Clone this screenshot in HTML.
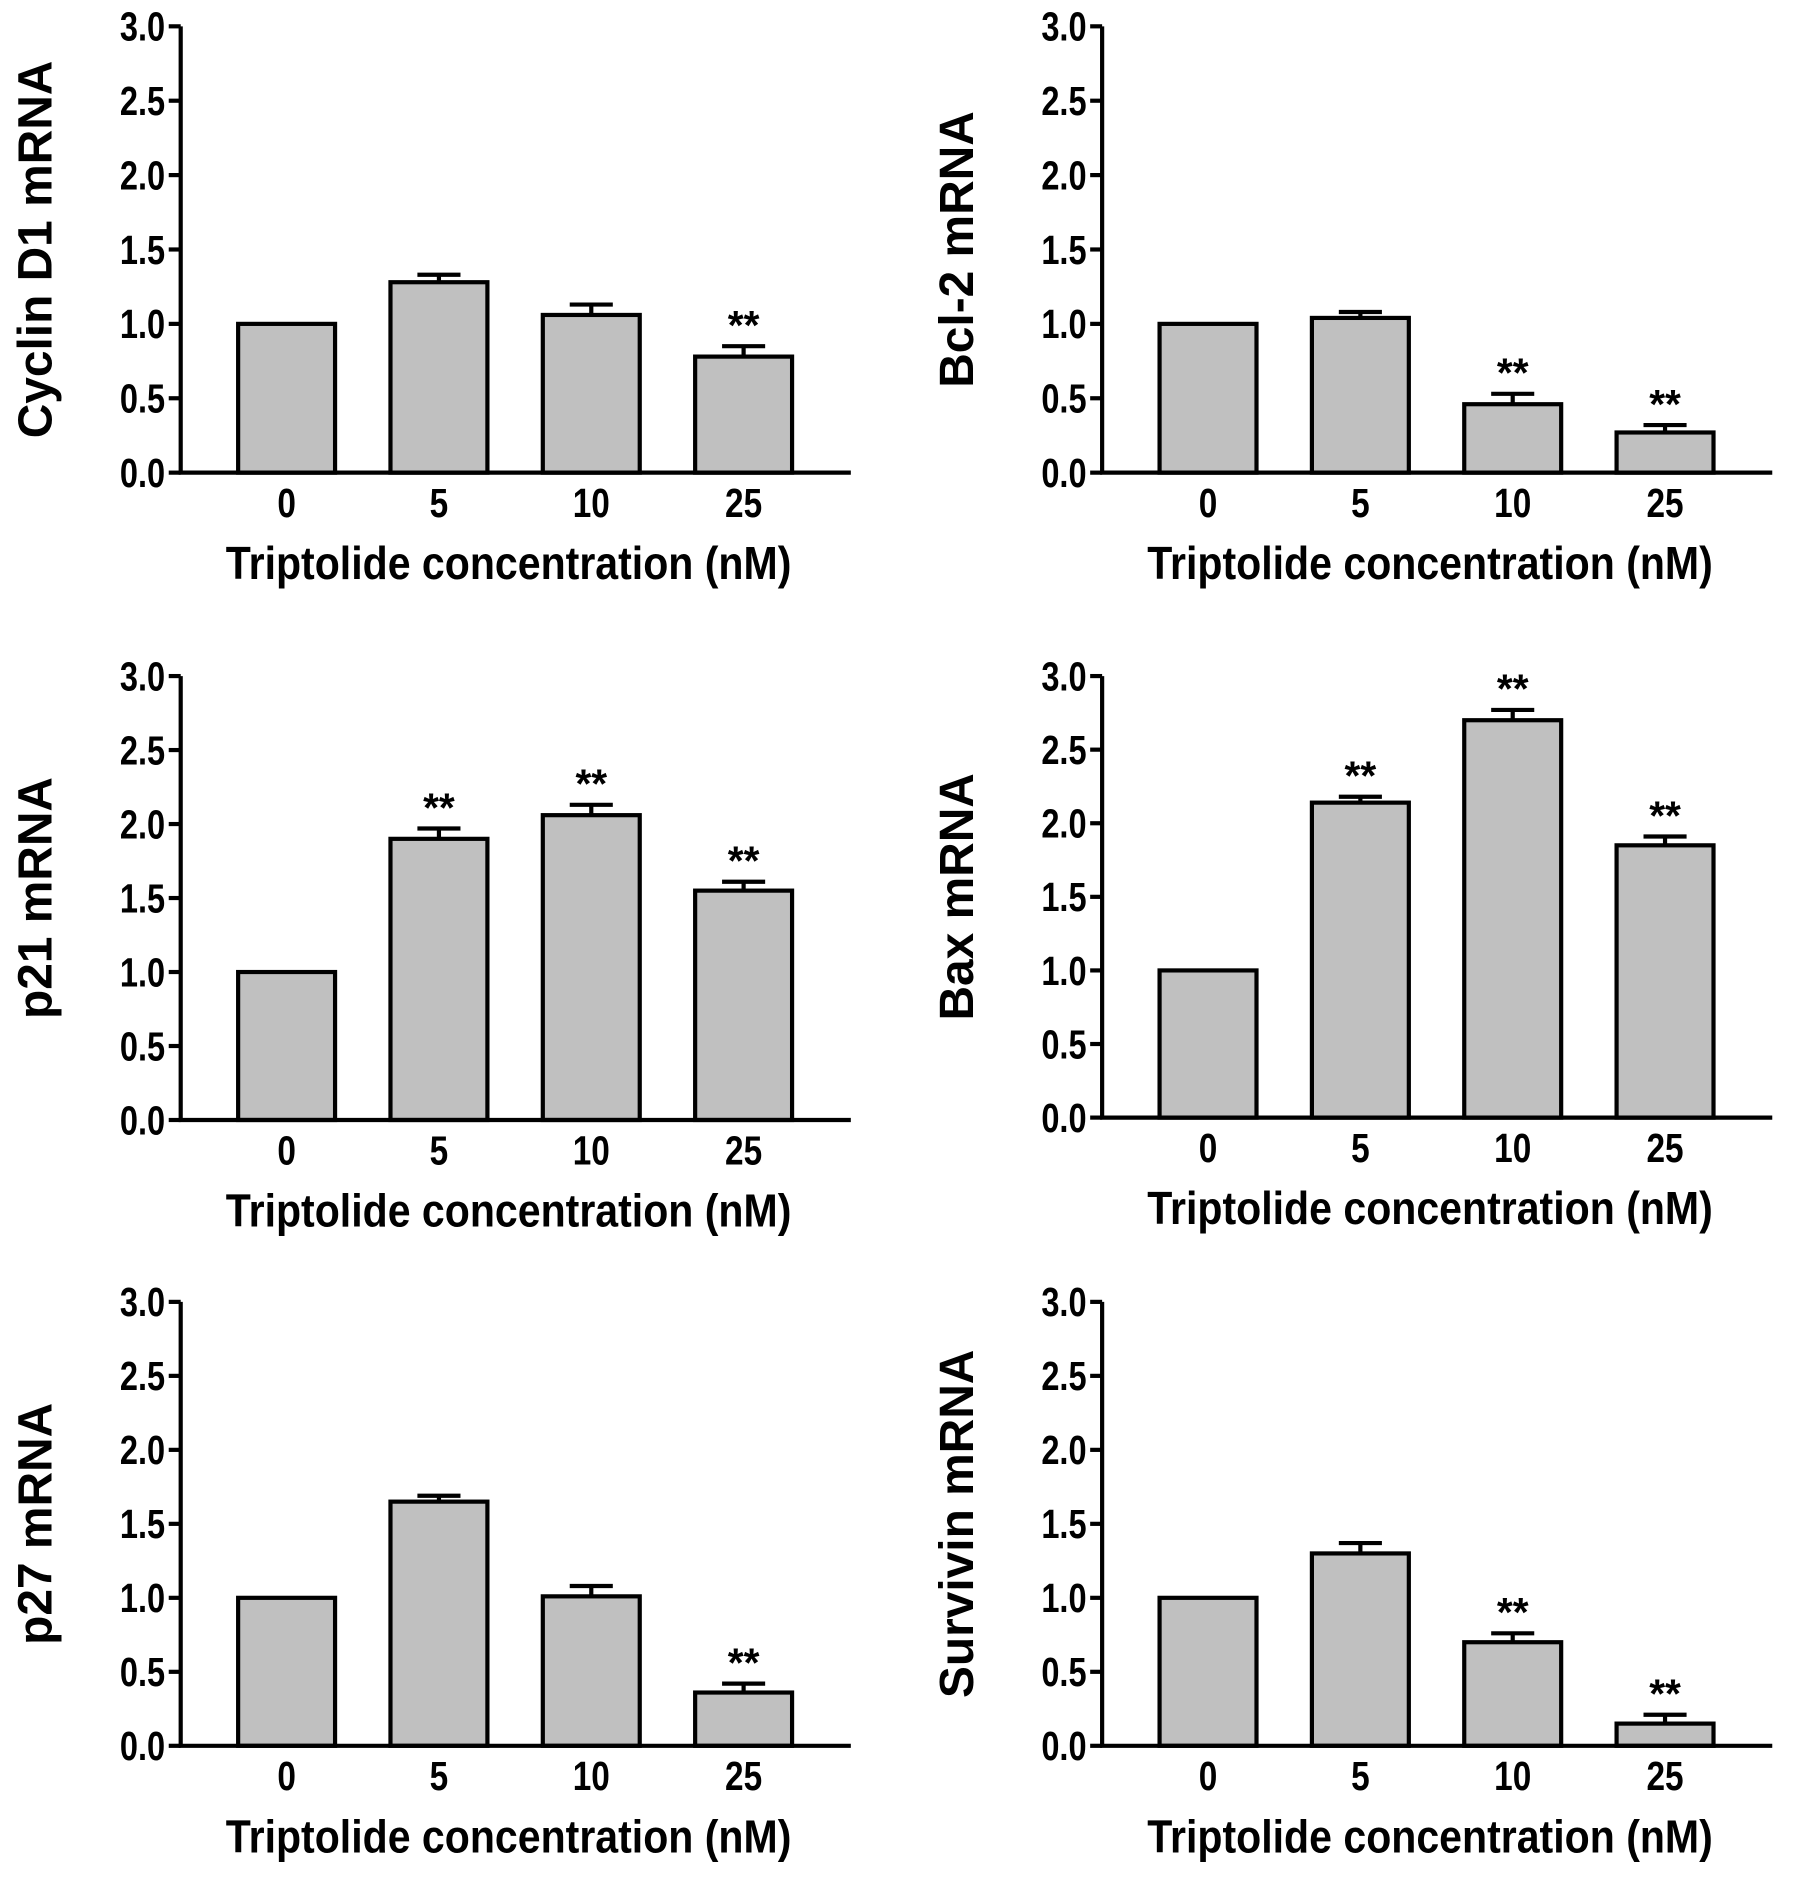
<!DOCTYPE html>
<html><head><meta charset="utf-8"><style>
html,body{margin:0;padding:0;background:#fff;}
svg{display:block;}
text{font-family:"Liberation Sans",Arial,sans-serif;font-weight:bold;fill:#000;}
</style></head><body>
<svg id="fig" width="1795" height="1887" viewBox="0 0 1500 1577" preserveAspectRatio="none" xmlns="http://www.w3.org/2000/svg"></svg>
<script>
const categories = ["0","5","10","25"];
const yTicks = [0,0.5,1.0,1.5,2.0,2.5,3.0];
const titles = ["Cyclin D1 mRNA","Bcl-2 mRNA","p21 mRNA","Bax mRNA","p27 mRNA","Survivin mRNA"];
const cyclinVals = [1.0,1.28,1.06,0.78];
const cyclinErr = [0,0.05,0.07,0.07];
const cyclinSig = [false,false,false,true];
const bcl2Vals = [1.0,1.04,0.46,0.27];
const bcl2Err = [0,0.04,0.07,0.05];
const bcl2Sig = [false,false,true,true];
const p21Vals = [1.0,1.90,2.06,1.55];
const p21Err = [0,0.07,0.07,0.06];
const p21Sig = [false,true,true,true];
const baxVals = [1.0,2.14,2.70,1.85];
const baxErr = [0,0.04,0.07,0.06];
const baxSig = [false,true,true,true];
const p27Vals = [1.0,1.65,1.01,0.36];
const p27Err = [0,0.04,0.07,0.06];
const p27Sig = [false,false,false,true];
const survVals = [1.0,1.30,0.70,0.15];
const survErr = [0,0.07,0.06,0.06];
const survSig = [false,false,true,true];

const svg = document.getElementById('fig');
const NS = "http://www.w3.org/2000/svg";
function mk(tag, attrs, parent){
  const e = document.createElementNS(NS, tag);
  for (const k in attrs) e.setAttribute(k, attrs[k]);
  (parent||svg).appendChild(e);
  return e;
}
const panels = [
  {ax:151, zero:395, top:22, vals:cyclinVals, err:cyclinErr, sig:cyclinSig, title:titles[0], name:'cyclin-d1'},
  {ax:921, zero:395, top:22, vals:bcl2Vals, err:bcl2Err, sig:bcl2Sig, title:titles[1], name:'bcl-2'},
  {ax:151, zero:936, top:565, vals:p21Vals, err:p21Err, sig:p21Sig, title:titles[2], name:'p21'},
  {ax:921, zero:934, top:565, vals:baxVals, err:baxErr, sig:baxSig, title:titles[3], name:'bax'},
  {ax:151, zero:1459, top:1088, vals:p27Vals, err:p27Err, sig:p27Sig, title:titles[4], name:'p27'},
  {ax:921, zero:1459, top:1088, vals:survVals, err:survErr, sig:survSig, title:titles[5], name:'survivin'}
];
panels.forEach(p=>{
  const g = mk('g',{});
  
  
  const ys = v => p.zero - (v/3)*(p.zero-p.top);
  const xs = i => p.ax + 48 + i*127.3;
  const bw = 81;
  p.vals.forEach((v,i)=>{
    const x = xs(i);
    const y = ys(v);
    if (p.err[i]>0){
      const ye = ys(v+p.err[i]);
      const l = mk('path',{d:`M${x+bw/2},${y} V${ye} M${x+bw/2-18},${ye} H${x+bw/2+18}`,stroke:'#000','stroke-width':3.5,fill:'none'},g);
      
      
    }
    const r = mk('rect',{x:x,y:y,width:bw,height:p.zero-y,fill:'#c0c0c0',stroke:'#000','stroke-width':3.5},g);
    
    
    if (p.sig[i]){
      const t = mk('text',{x:x+bw/2,y:ys(v+p.err[i])-6,'text-anchor':'middle','font-size':34},g);
      t.textContent='**';
      
      
    }
    const tl = mk('text',{x:x+bw/2,y:p.zero+37,'text-anchor':'middle','font-size':34,transform:`translate(${x+bw/2},0) scale(0.82,1) translate(${-(x+bw/2)},0)`},g);
    tl.textContent=categories[i];
    
    
  });
  const ax = mk('path',{d:`M${p.ax},${p.top} V${p.zero} H${p.ax+560}`,stroke:'#000','stroke-width':3.5,fill:'none'},g);
  
  
  yTicks.forEach(v=>{
    const y = ys(v);
    mk('line',{x1:p.ax-10,x2:p.ax,y1:y,y2:y,stroke:'#000','stroke-width':3.5},g);
    const t = mk('text',{x:p.ax-13,y:y+12,'text-anchor':'end','font-size':34,transform:`translate(${p.ax-13},0) scale(0.8,1) translate(${-(p.ax-13)},0)`},g);
    t.textContent=v.toFixed(1);
    
    
  });
  const cx = p.ax+274;
  const xt = mk('text',{x:cx,y:p.zero+89,'text-anchor':'middle','font-size':39,transform:`translate(${cx},0) scale(0.88,1) translate(${-cx},0)`},g);
  xt.textContent='Triptolide concentration (nM)';
  
  
  const cy = (p.top+p.zero)/2;
  const yt = mk('text',{x:0,y:0,'text-anchor':'middle','font-size':40,transform:`translate(${p.ax-108},${cy}) rotate(-90)`},g);
  yt.textContent=p.title;
  
  
});
</script>
</body></html>
